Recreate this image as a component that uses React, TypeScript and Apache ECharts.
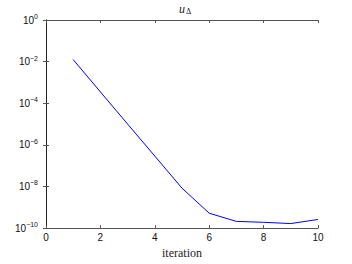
import React, { useEffect, useRef } from "react";
import * as echarts from "echarts";

const iterations = [1, 2, 3, 4, 5, 6, 7, 8, 9, 10];
const uDelta = [1.25e-2, 3.5e-4, 1.0e-5, 2.9e-7, 8.3e-9, 5.2e-10, 2.1e-10, 1.9e-10, 1.65e-10, 2.6e-10];
const xTicks = [0, 2, 4, 6, 8, 10];
const yExponents = [0, -2, -4, -6, -8, -10];

export default function App() {
  const ref = useRef<HTMLDivElement>(null);
  useEffect(() => {
    document.body.style.margin = "0";
    const chart = echarts.init(ref.current!, null, { renderer: "svg" });
    const axisColor = "#555";
    const sans = "Liberation Sans";
    const serif = "Liberation Serif";
    chart.setOption({
      animation: false,
      backgroundColor: "#fff",
      title: {
        text: "{u|u}{s|Δ}",
        left: 180,
        textAlign: "center",
        top: 0,
        padding: [2, 5, 2, 5],
        textStyle: {
          fontWeight: "normal",
          rich: {
            u: { fontFamily: serif, fontStyle: "italic", fontWeight: "normal", fontSize: 12, color: "#222" },
            s: { fontFamily: serif, fontWeight: "normal", fontSize: 8, color: "#222", verticalAlign: "bottom", padding: [5, 0, 0, 1] },
          },
        },
      },
      grid: { left: 46, right: 34, top: 20, bottom: 30 },
      xAxis: [
        {
          type: "value",
          min: 0,
          max: 10,
          interval: 2,
          name: "iteration",
          nameLocation: "middle",
          nameGap: 14,
          nameTextStyle: { fontFamily: serif, fontSize: 12, color: "#222" },
          axisLine: { lineStyle: { color: axisColor, width: 1 } },
          axisTick: { inside: true, length: 3, lineStyle: { color: axisColor } },
          axisLabel: {
            fontFamily: sans,
            fontSize: 10,
            color: "#111",
            margin: 4,
            formatter: (v: number) => (xTicks.includes(v) ? String(v) : ""),
          },
          splitLine: { show: false },
        },
        {
          type: "value",
          position: "top",
          min: 0,
          max: 10,
          interval: 2,
          axisLine: { lineStyle: { color: axisColor, width: 1 } },
          axisTick: { inside: true, length: 3, lineStyle: { color: axisColor } },
          axisLabel: { show: false },
          splitLine: { show: false },
        },
      ],
      yAxis: [
        {
          type: "log",
          logBase: 10,
          min: 1e-10,
          max: 1,
          interval: 2,
          axisLine: { lineStyle: { color: axisColor, width: 1 } },
          axisTick: { inside: true, length: 3, lineStyle: { color: axisColor } },
          axisLabel: {
            margin: 8,
            formatter: (v: number) => {
              const e = Math.round(Math.log10(v));
              if (!yExponents.includes(e)) return "";
              return "{b|10}{e|" + (e < 0 ? "−" + -e : String(e)) + "}";
            },
            rich: {
              b: { fontFamily: sans, fontSize: 10, color: "#111" },
              e: { fontFamily: sans, fontSize: 7, color: "#111", verticalAlign: "top", padding: [0, 0, 7, 0] },
            },
          },
          splitLine: { show: false },
        },
        {
          type: "log",
          logBase: 10,
          position: "right",
          min: 1e-10,
          max: 1,
          interval: 2,
          axisLine: { lineStyle: { color: "#222", width: 1 } },
          axisTick: { inside: true, length: 3, lineStyle: { color: axisColor } },
          axisLabel: { show: false },
          splitLine: { show: false },
        },
      ],
      series: [
        {
          type: "line",
          xAxisIndex: 0,
          yAxisIndex: 0,
          data: iterations.map((x, i) => [x, uDelta[i]]),
          symbol: "none",
          lineStyle: { color: "#0000ff", width: 1 },
        },
      ],
    });
    return () => chart.dispose();
  }, []);
  return <div ref={ref} style={{ width: 352, height: 264 }} />;
}
